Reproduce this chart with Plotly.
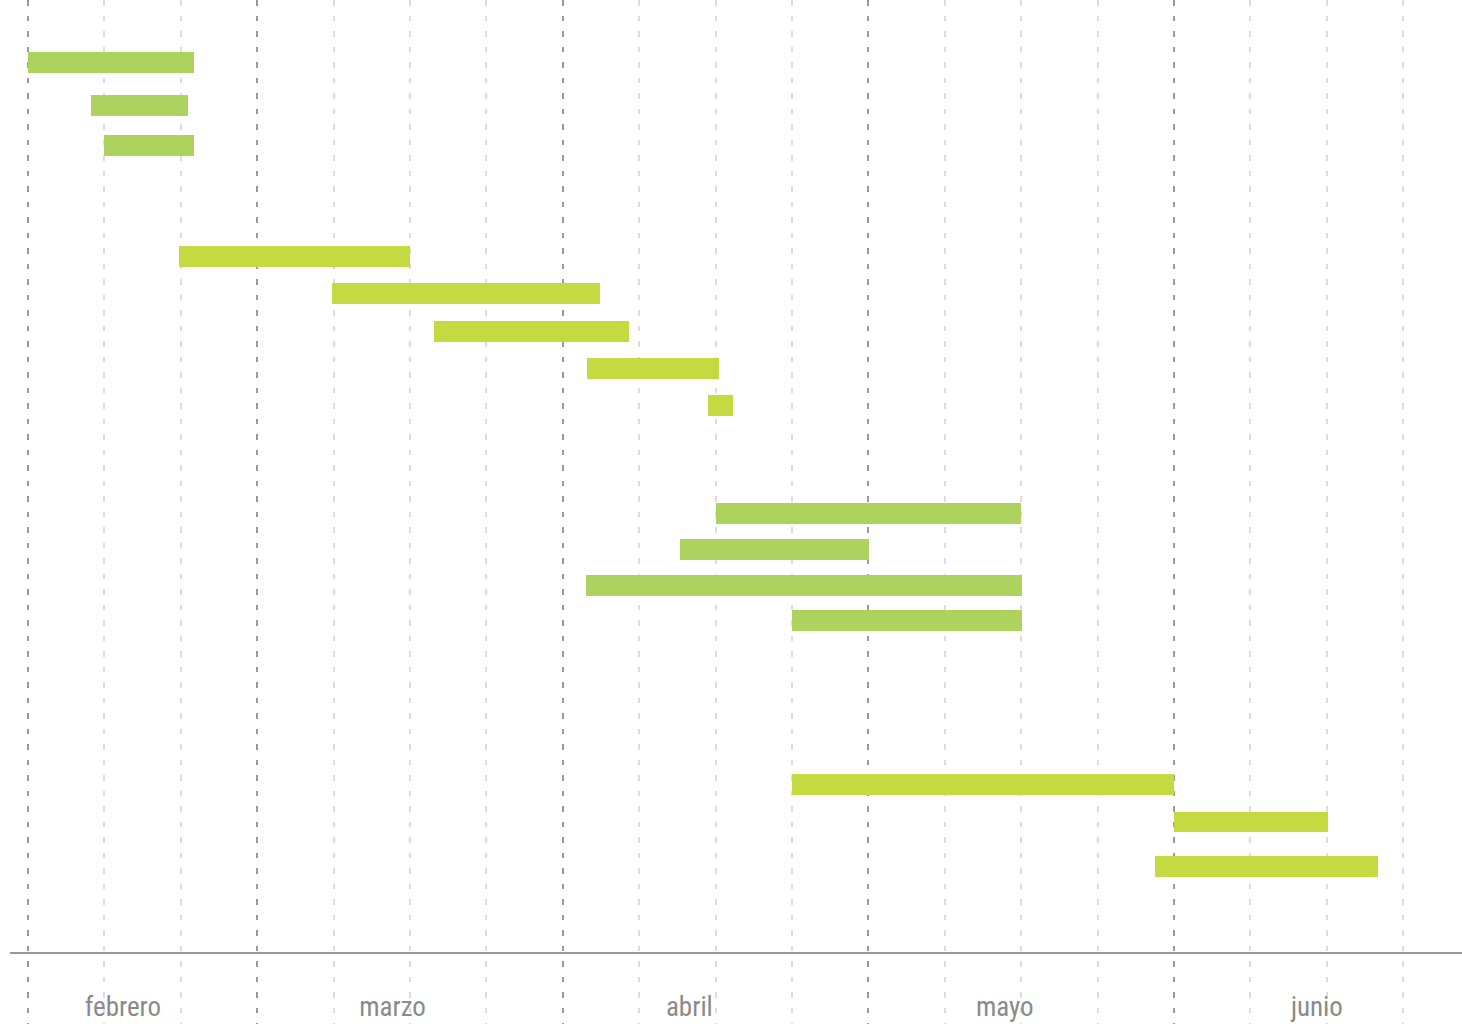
import plotly.graph_objects as go

# ---------------- data ----------------
# task start / end, in days from the first grid line
inicio = [0.0, 5.8, 7.0, 13.8, 27.9, 37.2, 51.2, 62.3, 63.0, 59.7, 51.1, 70.0, 70.0, 105.0, 103.3]
fin = [15.2, 14.7, 15.2, 35.0, 52.4, 55.1, 63.3, 64.6, 91.0, 77.1, 91.1, 91.1, 105.0, 119.1, 123.7]
# row (lane) of each task, top to bottom
fila = [1.69, 2.85, 3.93, 6.93, 7.93, 8.95, 9.95, 10.95, 13.87, 14.85, 15.82, 16.77, 21.2, 22.22, 23.41]
grupo = [1, 1, 1, 2, 2, 2, 2, 2, 3, 3, 3, 3, 4, 4, 4]
tareas = [f"Tarea {i + 1}" for i in range(len(inicio))]

meses = ["febrero", "marzo", "abril", "mayo", "junio"]
pos_meses = [8.7, 33.4, 60.6, 89.5, 118.1]

semanas = list(range(0, 127, 7))          # weekly grid
cortes = [0, 21, 49, 77, 105]             # darker period grid

# ---------------- style ----------------
colores_grupo = {1: "#AED25E", 2: "#C5DA40", 3: "#AED25E", 4: "#C5DA40"}
x_range = [-1.649, 131.40]
y_range = [27.676, 0]
FONT = "Roboto Condensed, Liberation Sans Narrow, Roboto, sans-serif"

fig = go.Figure()
fig.add_trace(go.Bar(
    orientation="h",
    y=fila,
    base=inicio,
    x=[f - i for i, f in zip(inicio, fin)],
    width=0.56,
    marker=dict(color=[colores_grupo[g] for g in grupo], line=dict(width=0)),
    text=tareas,
    textposition="none",
    hovertemplate="%{text}<extra></extra>",
    showlegend=False,
))
# invisible anchors so that the overlaying axes (grid / month labels) are drawn
for ax in ("x2", "x3"):
    fig.add_trace(go.Scatter(
        x=[inicio[0]], y=[fila[0]], xaxis=ax, yaxis="y", mode="markers",
        marker=dict(opacity=0, size=1), hoverinfo="skip", showlegend=False,
    ))

semanas_claras = [s for s in semanas if s not in cortes]

fig.update_layout(
    width=1462, height=1024,
    margin=dict(l=10, r=0, t=0, b=0),
    paper_bgcolor="white", plot_bgcolor="white",
    font=dict(family=FONT),
    xaxis=dict(
        range=x_range, tickmode="array", tickvals=semanas_claras,
        showgrid=True, gridcolor="#dcdcdc", gridwidth=1.5, griddash="5.5px,10px",
        showticklabels=False, ticks="", zeroline=False, showline=False,
    ),
    xaxis2=dict(
        range=x_range, overlaying="x", anchor="y", tickmode="array", tickvals=cortes,
        showgrid=True, gridcolor="#9a9a9a", gridwidth=2, griddash="5.5px,10px",
        showticklabels=False, ticks="", zeroline=False, showline=False,
    ),
    xaxis3=dict(
        range=x_range, overlaying="x", anchor="free", position=0.0696, side="bottom",
        tickmode="array", tickvals=pos_meses, ticktext=meses,
        showgrid=False, zeroline=False, showline=True, linecolor="#999999", linewidth=2,
        ticks="", ticklabelstandoff=30,
        tickfont=dict(family=FONT, size=27, color="#8a8a8a"),
    ),
    yaxis=dict(range=y_range, visible=False, showgrid=False, zeroline=False),
    bargap=0,
)

fig.write_html("out.html")
